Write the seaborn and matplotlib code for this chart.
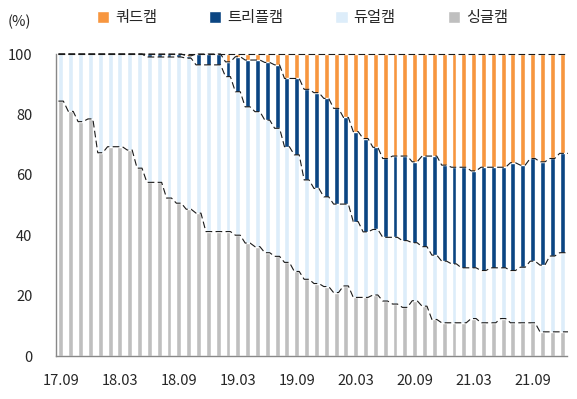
import numpy as np
import pandas as pd
import matplotlib
matplotlib.use("Agg")
import matplotlib.pyplot as plt
import seaborn as sns

# ── Data (share of shipments, %) ─────────────────────────────
months = [p.strftime("%y.%m") for p in pd.period_range("2017-09", "2021-12", freq="M")]
tick_labels = ["17.09", "18.03", "18.09", "19.03", "19.09", "20.03", "20.09", "21.03", "21.09"]

single = [84.4, 81.0, 77.6, 78.5, 67.3, 69.3, 69.3, 68.2, 62.2, 57.5,
          57.5, 52.3, 50.6, 48.6, 47.3, 41.2, 41.2, 41.2, 40.0, 37.4,
          36.2, 34.2, 33.0, 31.0, 28.0, 25.4, 24.0, 23.0, 21.0, 23.2,
          19.4, 19.4, 20.2, 18.2, 17.2, 16.1, 18.3, 16.5, 12.1, 11.0,
          11.0, 11.0, 12.4, 11.0, 11.0, 12.4, 11.0, 11.0, 11.0, 8.0,
          8.0, 8.0]
dual = [15.6, 19.0, 22.4, 21.5, 32.7, 30.7, 30.7, 31.8, 37.8, 41.5,
        41.5, 46.7, 48.4, 50.0, 49.1, 55.2, 55.2, 51.3, 47.5, 45.1,
        44.7, 43.9, 42.4, 38.3, 38.6, 32.9, 31.5, 29.7, 29.3, 27.1,
        25.1, 21.7, 21.7, 21.1, 22.1, 22.1, 19.2, 19.7, 21.3, 20.4,
        19.5, 18.2, 16.8, 17.3, 18.2, 16.8, 17.3, 18.4, 20.4, 22.1,
        25.1, 26.2]
triple = [0, 0, 0, 0, 0, 0, 0, 0, 0, 1.0,
          1.0, 1.0, 1.0, 0.8, 3.6, 3.6, 3.6, 4.9, 11.6, 15.5,
          17.1, 19.1, 21.0, 22.6, 25.3, 30.0, 31.7, 32.6, 31.7, 28.7,
          29.8, 30.9, 27.2, 26.1, 26.9, 28.0, 26.8, 30.0, 32.8, 31.8,
          32.0, 33.3, 32.1, 34.2, 33.3, 33.3, 35.7, 33.8, 34.0, 34.2,
          32.3, 32.9]
quad = [0, 0, 0, 0, 0, 0, 0, 0, 0, 0,
        0, 0, 0, 0.6, 0, 0, 0, 2.6, 0.9, 2.0,
        2.0, 2.8, 3.6, 8.1, 8.1, 11.7, 12.8, 14.7, 18.0, 21.0,
        25.7, 28.0, 30.9, 34.6, 33.8, 33.8, 35.7, 33.8, 33.8, 36.8,
        37.5, 37.5, 38.7, 37.5, 37.5, 37.5, 36.0, 36.8, 34.6, 35.7,
        34.6, 32.9]

series_names = ["쿼드캠", "트리플캠", "듀얼캠", "싱글캠"]
colors = ["#F7963F", "#0B4582", "#DDEDFA", "#BFBFBF"]

df = pd.DataFrame({"month": months, "싱글캠": single, "듀얼캠": dual,
                   "트리플캠": triple, "쿼드캠": quad})

# cumulative tops, drawn from the largest down so each layer overlays the last
cum = df[["싱글캠", "듀얼캠", "트리플캠", "쿼드캠"]].cumsum(axis=1)

sns.set_style("white")
plt.rcParams["font.family"] = ["Noto Sans CJK KR", "DejaVu Sans"]

fig = plt.figure(figsize=(5.77, 3.99), dpi=100)
ax = fig.add_axes([56 / 577, 1 - 356 / 399, 511 / 577, 302 / 399])

BAR_W = 0.5
for name, color in zip(series_names, colors):
    sns.barplot(x=df["month"], y=cum[name], color=color, saturation=1,
                width=BAR_W, label=name, ax=ax, zorder=2)

# dashed series lines along each boundary
x = np.arange(len(months))
for name in ["싱글캠", "듀얼캠", "트리플캠", "쿼드캠"]:
    vals = cum[name].to_numpy()
    xs = np.column_stack([x - BAR_W / 2, x + BAR_W / 2]).ravel()
    ys = np.repeat(vals, 2)
    xs = np.append(xs, x[-1] + 0.6)
    ys = np.append(ys, vals[-1])
    ax.plot(xs, ys, color="#1a1a1a", lw=0.8, ls=(0, (6, 3)), zorder=3,
            clip_on=False)

ax.set_xlim(-0.5, len(months) - 0.5)
ax.set_ylim(0, 100)
ax.set_xlabel("")
ax.set_ylabel("")

ax.set_xticks([months.index(t) for t in tick_labels])
ax.set_xticklabels(tick_labels)
ax.set_xticks(np.arange(5.5, len(months) - 1, 6), minor=True)
ax.tick_params(axis="x", which="major", length=0, pad=13, labelsize=10.5)
ax.tick_params(axis="x", which="minor", direction="in", length=4,
               color="#888888", width=1)

ax.set_yticks(range(0, 101, 20))
ax.tick_params(axis="y", direction="in", length=5, pad=17, labelsize=10.5,
               color="#888888", width=1)

for side in ["top", "right"]:
    ax.spines[side].set_visible(False)
for side in ["left", "bottom"]:
    ax.spines[side].set_color("#888888")
    ax.spines[side].set_linewidth(1)
    ax.spines[side].set_zorder(4)

if ax.legend_:
    ax.legend_.remove()
handles, labels = ax.get_legend_handles_labels()
fig.legend(handles, labels, loc="center", bbox_to_anchor=(0.524, 0.955),
           ncol=4, frameon=False, fontsize=11, handlelength=0.8,
           handleheight=0.8, handletextpad=0.4, columnspacing=3.4)

fig.text(8 / 577, 1 - 22 / 399, "(%)", fontsize=10.5, va="center", ha="left")

fig.savefig("out.png", dpi=100)
